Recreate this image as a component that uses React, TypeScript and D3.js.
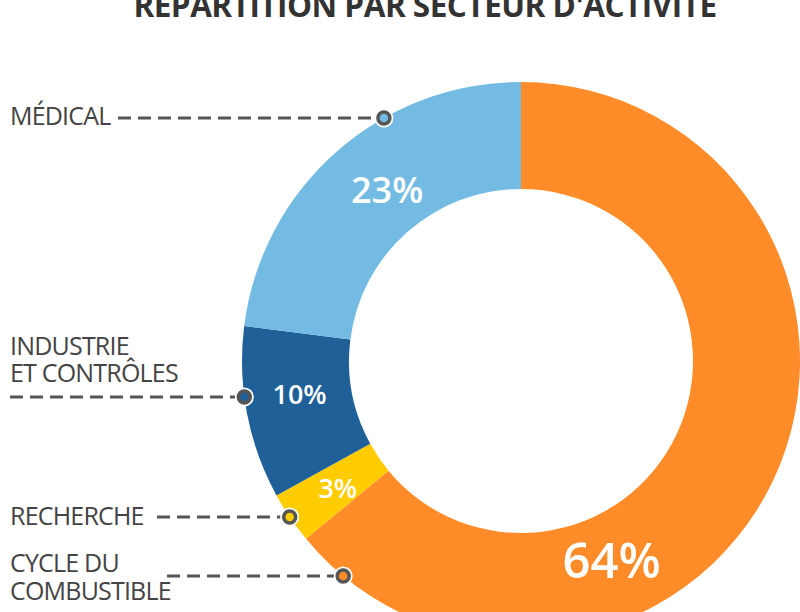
import React from "react";
import * as d3 from "d3";

const categories = ["CYCLE DU COMBUSTIBLE", "RECHERCHE", "INDUSTRIE ET CONTRÔLES", "MÉDICAL"];
const values = [64, 3, 10, 23];
const colors = ["#FF8C28", "#FFCC00", "#1F6098", "#73BBE3"];
const labelLines = [["CYCLE DU", "COMBUSTIBLE"], ["RECHERCHE"], ["INDUSTRIE", "ET CONTRÔLES"], ["MÉDICAL"]];
const title = "RÉPARTITION PAR SECTEUR D'ACTIVITÉ";

const W = 800, H = 612;
const cx = 521, cy = 361, R = 279, r = 172;
// layout: where the percentage label sits along each slice (fraction of slice span)
const labelFrac = [0.675, 0.45, 0.56, 0.54];
const labelR = [219, 223, 224, 217];
const labelSize = [49, 27, 27, 36];
const labelWeight = [600, 600, 600, 600];
// layout: legend text positions and leader line
const legend = [
  { tx: 10, ty: [572, 600], ly: 576, lx0: 167 },
  { tx: 10, ty: [525], ly: 517, lx0: 157 },
  { tx: 10, ty: [355, 382], ly: 397, lx0: 10 },
  { tx: 10, ty: [125], ly: 118, lx0: 118 },
];

export default function App() {
  const pie = d3.pie<number>().sort(null).value((d) => d)(values);
  const arc = d3.arc<d3.PieArcDatum<number>>().innerRadius(r).outerRadius(R);
  const fmt = (v: number) => `${v}%`;
  return (
    <svg width={W} height={H} style={{ position: "absolute", left: 0, top: 0, background: "#fff" }}
      fontFamily="'Open Sans', sans-serif">
      <text x={425} y={17} textAnchor="middle" fontSize={31.5} fontWeight={700} fill="#333" letterSpacing={-0.5}>{title}</text>
      <g transform={`translate(${cx},${cy})`}>
        {pie.map((p, i) => (
          <path key={categories[i]} d={arc(p) || ""} fill={colors[i]} />
        ))}
        {pie.map((p, i) => {
          const a = p.startAngle + (p.endAngle - p.startAngle) * labelFrac[i];
          const x = Math.sin(a) * labelR[i];
          const y = -Math.cos(a) * labelR[i];
          return (
            <text key={"l" + i} x={x} y={y} dy="0.36em" textAnchor="middle" fill="#fff"
              fontSize={labelSize[i]} fontWeight={labelWeight[i]}>{fmt(values[i])}</text>
          );
        })}
      </g>
      {legend.map((l, i) => {
        const dy = l.ly - cy;
        const dx = Math.sqrt(R * R - dy * dy);
        const px = cx - dx;
        return (
          <g key={"g" + i}>
            {labelLines[i].map((t, j) => (
              <text key={j} x={l.tx} y={l.ty[j]} fontSize={25} fill="#444" letterSpacing={-0.8}>{t}</text>
            ))}
            <line x1={l.lx0} x2={px - 9} y1={l.ly} y2={l.ly} stroke="#555" strokeWidth={3} strokeDasharray="13 7" />
            <circle cx={px} cy={l.ly} r={9.5} fill="#fff" />
            <circle cx={px} cy={l.ly} r={6} fill={colors[i]} stroke="#555" strokeWidth={3.5} />
          </g>
        );
      })}
    </svg>
  );
}
